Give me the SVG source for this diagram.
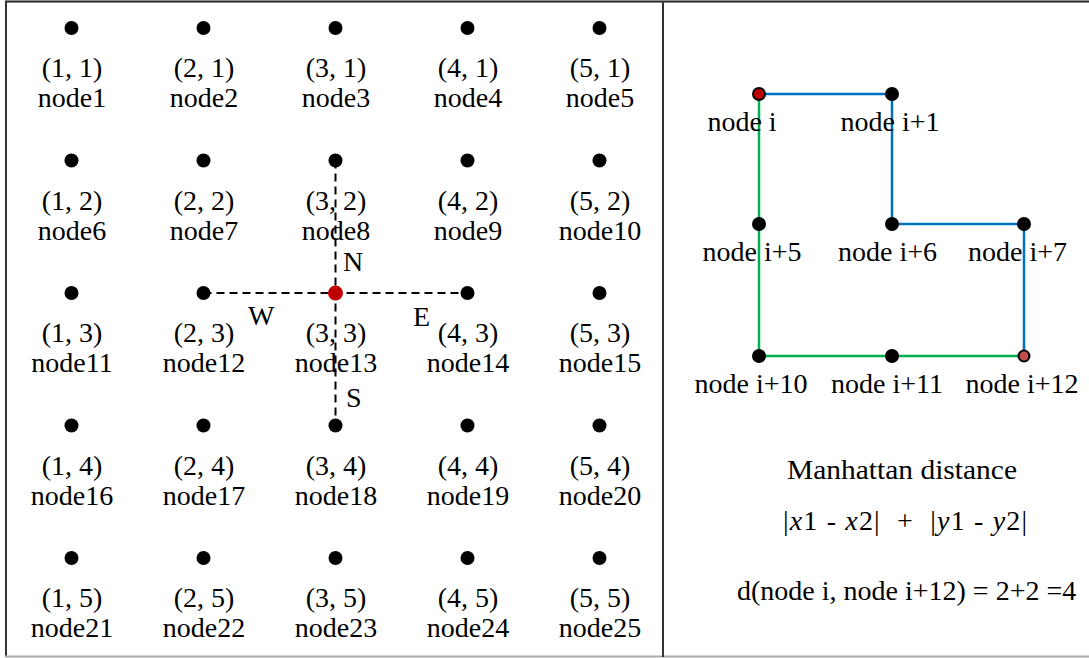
<svg xmlns="http://www.w3.org/2000/svg" width="1089" height="658" viewBox="0 0 1089 658">
<style>
text{font-family:"Liberation Serif","Times New Roman",serif;font-size:28px;fill:#000;}
.c{text-anchor:middle;}
.dot{fill:#000;}
.dash{stroke:#000;stroke-width:2;stroke-dasharray:8,5;fill:none;}
.blue{stroke:#0070c0;stroke-width:2.5;fill:none;}
.green{stroke:#00b050;stroke-width:2.5;fill:none;}
.pre{white-space:pre;}
</style>
<rect width="1089" height="658" fill="#fff"/>
<g id="frame">
<line x1="5" y1="1.5" x2="1089" y2="1.5" stroke="#222" stroke-width="2"/>
<line x1="6" y1="1" x2="6" y2="657" stroke="#333" stroke-width="2"/>
<line x1="5" y1="656.5" x2="1089" y2="656.5" stroke="#aaa" stroke-width="2"/>
<line x1="663" y1="1" x2="663" y2="657" stroke="#333" stroke-width="2"/>
</g>
<g id="connectors">
<line class="dash" x1="335.5" y1="160.5" x2="335.5" y2="425.5"/>
<line class="dash" x1="203.5" y1="293" x2="467.5" y2="293"/>
<polyline class="blue" points="759,94 892,94 892,224 1024,224 1024,356"/>
<polyline class="green" points="759,94 759,356 1024,356"/>
</g>
<g id="compass">
<text x="343" y="271">N</text>
<text x="248" y="325">W</text>
<text x="413" y="326">E</text>
<text x="346" y="407">S</text>
</g>
<g id="n1"><circle class="dot" cx="71.5" cy="28" r="7"/><text class="c" x="72" y="77">(1, 1)</text><text class="c" x="72" y="107">node1</text></g>
<g id="n2"><circle class="dot" cx="203.5" cy="28" r="7"/><text class="c" x="204" y="77">(2, 1)</text><text class="c" x="204" y="107">node2</text></g>
<g id="n3"><circle class="dot" cx="335.5" cy="28" r="7"/><text class="c" x="336" y="77">(3, 1)</text><text class="c" x="336" y="107">node3</text></g>
<g id="n4"><circle class="dot" cx="467.5" cy="28" r="7"/><text class="c" x="468" y="77">(4, 1)</text><text class="c" x="468" y="107">node4</text></g>
<g id="n5"><circle class="dot" cx="599.5" cy="28" r="7"/><text class="c" x="600" y="77">(5, 1)</text><text class="c" x="600" y="107">node5</text></g>
<g id="n6"><circle class="dot" cx="71.5" cy="160.5" r="7"/><text class="c" x="72" y="209.5">(1, 2)</text><text class="c" x="72" y="239.5">node6</text></g>
<g id="n7"><circle class="dot" cx="203.5" cy="160.5" r="7"/><text class="c" x="204" y="209.5">(2, 2)</text><text class="c" x="204" y="239.5">node7</text></g>
<g id="n8"><circle class="dot" cx="335.5" cy="160.5" r="7"/><text class="c" x="336" y="209.5">(3, 2)</text><text class="c" x="336" y="239.5">node8</text></g>
<g id="n9"><circle class="dot" cx="467.5" cy="160.5" r="7"/><text class="c" x="468" y="209.5">(4, 2)</text><text class="c" x="468" y="239.5">node9</text></g>
<g id="n10"><circle class="dot" cx="599.5" cy="160.5" r="7"/><text class="c" x="600" y="209.5">(5, 2)</text><text class="c" x="600" y="239.5">node10</text></g>
<g id="n11"><circle class="dot" cx="71.5" cy="293" r="7"/><text class="c" x="72" y="342">(1, 3)</text><text class="c" x="72" y="372">node11</text></g>
<g id="n12"><circle class="dot" cx="203.5" cy="293" r="7"/><text class="c" x="204" y="342">(2, 3)</text><text class="c" x="204" y="372">node12</text></g>
<g id="n13"><circle cx="335.5" cy="293" r="7.5" fill="#c00000"/><text class="c" x="336" y="342">(3, 3)</text><text class="c" x="336" y="372">node13</text></g>
<g id="n14"><circle class="dot" cx="467.5" cy="293" r="7"/><text class="c" x="468" y="342">(4, 3)</text><text class="c" x="468" y="372">node14</text></g>
<g id="n15"><circle class="dot" cx="599.5" cy="293" r="7"/><text class="c" x="600" y="342">(5, 3)</text><text class="c" x="600" y="372">node15</text></g>
<g id="n16"><circle class="dot" cx="71.5" cy="425.5" r="7"/><text class="c" x="72" y="474.5">(1, 4)</text><text class="c" x="72" y="504.5">node16</text></g>
<g id="n17"><circle class="dot" cx="203.5" cy="425.5" r="7"/><text class="c" x="204" y="474.5">(2, 4)</text><text class="c" x="204" y="504.5">node17</text></g>
<g id="n18"><circle class="dot" cx="335.5" cy="425.5" r="7"/><text class="c" x="336" y="474.5">(3, 4)</text><text class="c" x="336" y="504.5">node18</text></g>
<g id="n19"><circle class="dot" cx="467.5" cy="425.5" r="7"/><text class="c" x="468" y="474.5">(4, 4)</text><text class="c" x="468" y="504.5">node19</text></g>
<g id="n20"><circle class="dot" cx="599.5" cy="425.5" r="7"/><text class="c" x="600" y="474.5">(5, 4)</text><text class="c" x="600" y="504.5">node20</text></g>
<g id="n21"><circle class="dot" cx="71.5" cy="558" r="7"/><text class="c" x="72" y="607">(1, 5)</text><text class="c" x="72" y="637">node21</text></g>
<g id="n22"><circle class="dot" cx="203.5" cy="558" r="7"/><text class="c" x="204" y="607">(2, 5)</text><text class="c" x="204" y="637">node22</text></g>
<g id="n23"><circle class="dot" cx="335.5" cy="558" r="7"/><text class="c" x="336" y="607">(3, 5)</text><text class="c" x="336" y="637">node23</text></g>
<g id="n24"><circle class="dot" cx="467.5" cy="558" r="7"/><text class="c" x="468" y="607">(4, 5)</text><text class="c" x="468" y="637">node24</text></g>
<g id="n25"><circle class="dot" cx="599.5" cy="558" r="7"/><text class="c" x="600" y="607">(5, 5)</text><text class="c" x="600" y="637">node25</text></g>
<g id="ni"><circle cx="759" cy="94" r="6" fill="#c00000" stroke="#000" stroke-width="2"/><text class="c" x="742" y="131">node i</text></g>
<g id="ni1"><circle class="dot" cx="892" cy="94" r="7"/><text class="c" x="890" y="131">node i+1</text></g>
<g id="ni5"><circle class="dot" cx="759" cy="224" r="7"/><text class="c" x="752" y="261">node i+5</text></g>
<g id="ni6"><circle class="dot" cx="892" cy="224" r="7"/><text class="c" x="887.5" y="261">node i+6</text></g>
<g id="ni7"><circle class="dot" cx="1024" cy="224" r="7"/><text class="c" x="1017.5" y="261">node i+7</text></g>
<g id="ni10"><circle class="dot" cx="759" cy="356" r="7"/><text class="c" x="751" y="393">node i+10</text></g>
<g id="ni11"><circle class="dot" cx="892" cy="356" r="7"/><text class="c" x="887" y="393">node i+11</text></g>
<g id="ni12"><circle cx="1024" cy="356" r="5.5" fill="#c0504d" stroke="#000" stroke-width="2"/><text class="c" x="1022" y="393">node i+12</text></g>
<g id="formula">
<text class="c" x="902" y="479" textLength="230" lengthAdjust="spacingAndGlyphs">Manhattan distance</text>
<text class="pre" x="783" y="530" textLength="244" lengthAdjust="spacing">|<tspan font-style="italic">x</tspan>1 - <tspan font-style="italic">x</tspan>2|  +  |<tspan font-style="italic">y</tspan>1 - <tspan font-style="italic">y</tspan>2|</text>
<text x="737" y="600">d(node i, node i+12) = 2+2 =4</text>
</g>
</svg>
